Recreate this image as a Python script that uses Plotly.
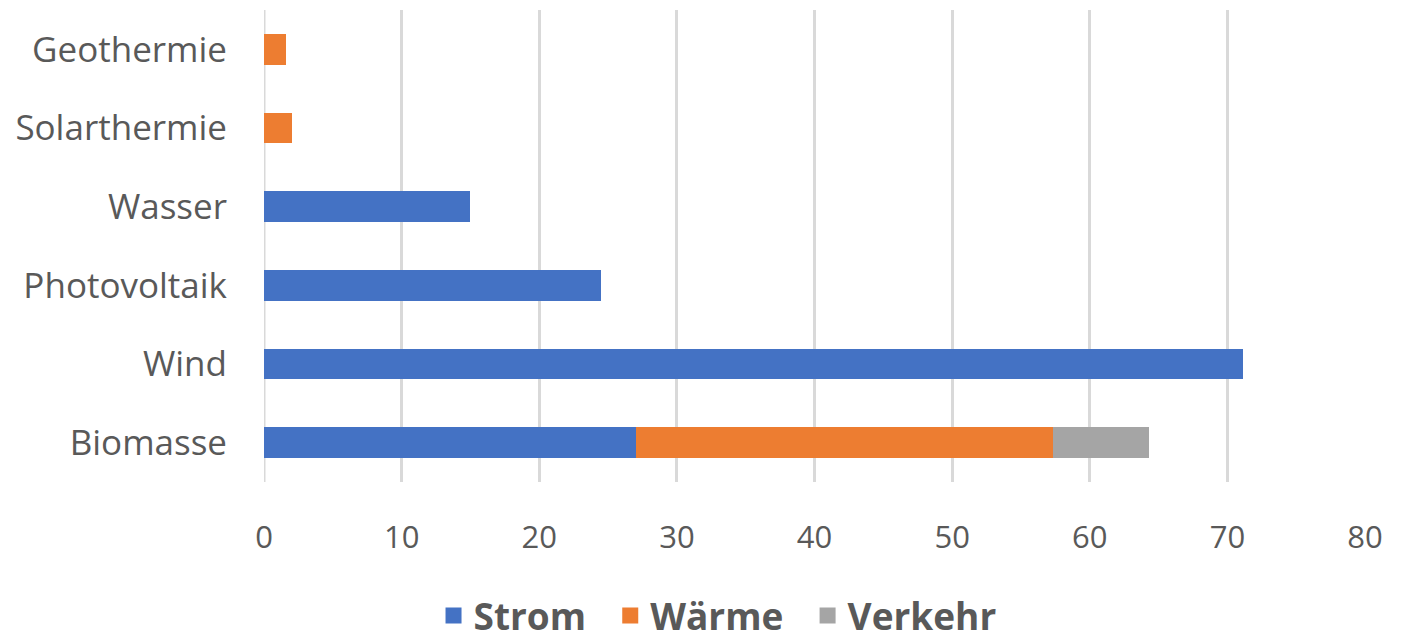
import plotly.graph_objects as go

categories = ["Biomasse", "Wind", "Photovoltaik", "Wasser", "Solarthermie", "Geothermie"]
strom = [27.0, 71.1, 24.5, 15.0, 0, 0]
waerme = [30.3, 0, 0, 0, 2.0, 1.6]
verkehr = [7.0, 0, 0, 0, 0, 0]
x_ticks = [0, 10, 20, 30, 40, 50, 60, 70, 80]
series = [("Strom", strom, "#4472C4"), ("Wärme", waerme, "#ED7D31"), ("Verkehr", verkehr, "#A5A5A5")]

fig = go.Figure()
for name, vals, col in series:
    fig.add_trace(go.Bar(y=categories, x=vals, name=name, orientation="h", showlegend=False,
                         marker=dict(color=col, line=dict(width=0))))
for i, (name, vals, col) in enumerate(series):
    pad = "\u00a0\u00a0" if i < len(series) - 1 else ""
    fig.add_trace(go.Scatter(x=[None], y=[None], mode="markers", name=name + pad,
                             marker=dict(symbol="square", size=21, color=col)))

fig.update_layout(
    barmode="stack", bargap=0.61,
    width=1405, height=639,
    paper_bgcolor="white", plot_bgcolor="white",
    margin=dict(l=256, r=48, t=2, b=165, autoexpand=False),
    font=dict(family="Open Sans", color="#595959"),
    xaxis=dict(range=[0, 80], tickvals=x_ticks, showgrid=True, gridcolor="#D9D9D9", gridwidth=3,
               zeroline=False, showline=False, tickfont=dict(size=31), ticks="",
               ticklabelstandoff=34, automargin=False),
    yaxis=dict(categoryorder="array", categoryarray=categories, showgrid=False,
               tickfont=dict(size=35), ticks="", ticklabelstandoff=36, showline=False,
               automargin=False),
    legend=dict(orientation="h", x=0.505, xanchor="center", xref="container",
                y=-0.013, yanchor="bottom", yref="container",
                font=dict(size=37, color="#595959", family="Open Sans", weight="bold"),
                traceorder="normal", itemwidth=30),
)
fig.add_shape(type="line", x0=0, x1=0, y0=0, y1=1, yref="paper", xref="x",
              line=dict(color="#D9D9D9", width=3), layer="below")
fig.write_html("out.html")
